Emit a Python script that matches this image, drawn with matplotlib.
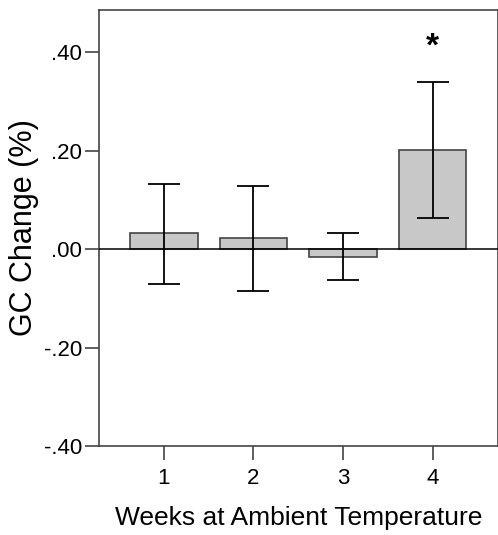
import matplotlib
matplotlib.use('Agg')
import matplotlib.pyplot as plt
import numpy as np

plt.rcParams.update({
    'font.family': ['Liberation Sans', 'DejaVu Sans'],
    'font.size': 16,
})

weeks = [1, 2, 3, 4]
gc_change = [0.032, 0.022, -0.015, 0.202]
err_low = [-0.070, -0.085, -0.062, 0.064]
err_high = [0.132, 0.129, 0.033, 0.340]
sig = ['', '', '', '*']

yerr = np.array([
    [m - lo for m, lo in zip(gc_change, err_low)],
    [hi - m for m, hi in zip(gc_change, err_high)],
])

fig = plt.figure(figsize=(4.98, 5.35), dpi=100)
ax = fig.add_axes([99 / 498, (535 - 446) / 535, 399 / 498, 436 / 535])

ax.bar(weeks, gc_change, width=0.75, color='#c8c8c8', edgecolor='#444444',
       linewidth=1.2, zorder=2)
ax.errorbar(weeks, gc_change, yerr=yerr, fmt='none', ecolor='black',
            elinewidth=1.3, capsize=11.5, capthick=1.3, zorder=3)
ax.axhline(0, color='black', linewidth=1.1, zorder=4)

for x, hi, s in zip(weeks, err_high, sig):
    if s:
        ax.text(x, hi + 0.07, s, ha='center', va='center',
                fontsize=24, fontweight='bold')

ax.set_xlim(0.275, 4.73)
ax.set_ylim(-0.40, 0.486)
ax.set_xticks(weeks)
ax.set_yticks([-0.40, -0.20, 0.0, 0.20, 0.40])
ax.set_yticklabels(['-.40', '-.20', '.00', '.20', '.40'])
ax.tick_params(direction='out', length=10, width=1.2, color='#444444',
               labelsize=16, pad=2)
ax.tick_params(axis='x', pad=6)

for side in ['left', 'bottom', 'top', 'right']:
    ax.spines[side].set_color('#444444')
    ax.spines[side].set_linewidth(1.2)

ax.set_xlabel('Weeks at Ambient Temperature', fontsize=19, labelpad=12)
ax.set_ylabel('GC Change (%)', fontsize=22, labelpad=4)

fig.savefig('out.png', dpi=100)
